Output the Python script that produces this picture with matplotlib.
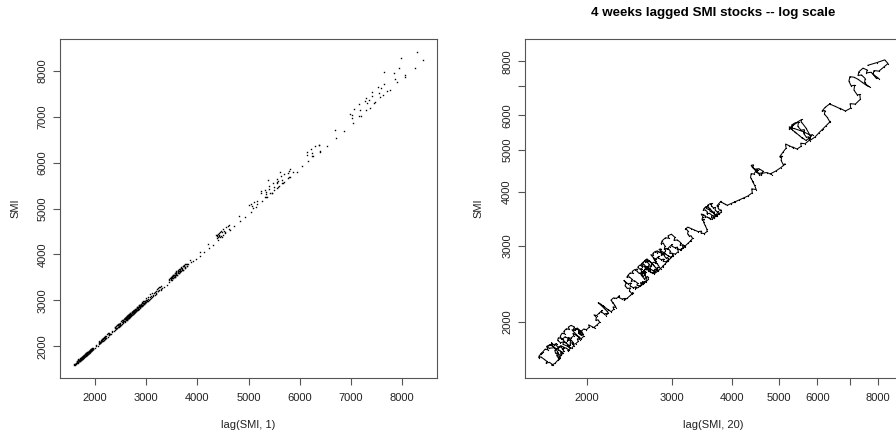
import numpy as np
import matplotlib
matplotlib.use("Agg")
import matplotlib.pyplot as plt
from matplotlib.ticker import FixedLocator, FixedFormatter, NullLocator

# Approximate SMI closes every 3 trading days (Jul 1991 - Aug 1998)
smi_1991 = [1678, 1692, 1710, 1704, 1725, 1742, 1738,
            1755, 1768, 1760, 1772,
            1745, 1712, 1668, 1650,
            1672, 1695, 1688, 1712, 1735, 1750, 1745, 1768,
            1782, 1770, 1790, 1778, 1765,
            1748, 1722, 1730, 1705, 1688, 1692, 1670, 1652, 1660,
            1638, 1620, 1605, 1612, 1592, 1588]
smi_1992 = [1605, 1630, 1652, 1645, 1672, 1698, 1690, 1718, 1740, 1762,
            1748, 1730, 1742, 1722, 1715,
            1738, 1765, 1790, 1782, 1808, 1832, 1825, 1848,
            1830, 1808, 1815, 1790, 1772, 1780,
            1802, 1828, 1820, 1852, 1875, 1868, 1895, 1918, 1910, 1935,
            1915, 1895, 1902, 1878, 1862,
            1885, 1908, 1930, 1922, 1948, 1962,
            1945, 1920, 1928, 1900, 1875, 1882, 1852, 1830, 1838, 1812, 1790, 1798,
            1775, 1760, 1768, 1745, 1738,
            1762, 1790, 1782, 1815, 1840, 1832, 1858, 1880,
            1862, 1845, 1850, 1828,
            1850, 1878, 1870, 1898, 1925, 1918, 1945, 1968]
smi_1993 = [1950, 1935, 1942,
            1968, 1995, 2022, 2015, 2048, 2075, 2068, 2098, 2125,
            2108, 2085, 2092, 2068,
            2095, 2122, 2150, 2142, 2172, 2195, 2188, 2215,
            2195, 2170, 2178, 2150, 2128, 2135, 2110,
            2138, 2165, 2158, 2190, 2218, 2210, 2245, 2272, 2265, 2298,
            2280, 2258, 2265, 2242,
            2270, 2302, 2335, 2325, 2362, 2395, 2388, 2425, 2460, 2492,
            2475, 2448, 2458, 2425, 2398, 2410, 2385, 2402,
            2432, 2465, 2455, 2492, 2528, 2518, 2555, 2590, 2582, 2620, 2655, 2648,
            2625, 2598, 2610, 2585,
            2618, 2655, 2692, 2682, 2725, 2768, 2758, 2805]
smi_1994 = [2842, 2878, 2868, 2905, 2945, 2935, 2978, 3015, 3005, 3048, 3092, 3085, 3135, 3188,
            3162, 3120, 3128, 3078, 3030, 3042, 2992, 2945, 2955, 2908, 2862, 2848,
            2875, 2902, 2892, 2918, 2905,
            2878, 2850, 2858, 2822, 2790, 2800, 2765, 2738, 2745, 2712,
            2738, 2762, 2752, 2778, 2770,
            2745, 2718, 2725, 2690, 2662, 2670, 2638, 2612, 2590,
            2615, 2645, 2638, 2672, 2705, 2698, 2735, 2768, 2760, 2795,
            2772, 2745, 2752, 2718, 2688, 2695, 2662, 2635, 2642,
            2665, 2690, 2682, 2710, 2702,
            2675, 2648, 2655, 2622, 2595, 2602, 2570, 2548]
smi_1995 = [2570, 2598, 2590, 2622, 2648, 2640,
            2615, 2588, 2595, 2562, 2535, 2542, 2510, 2482, 2490, 2458, 2432, 2418,
            2445, 2478, 2470, 2508, 2545, 2538, 2578, 2615, 2605, 2645, 2682, 2672,
            2650, 2628, 2635, 2612,
            2640, 2672, 2665, 2702, 2738, 2730, 2768, 2805, 2795, 2832,
            2810, 2785, 2792, 2765, 2752,
            2780, 2815, 2808, 2848, 2885, 2875, 2912, 2948, 2940,
            2915, 2888, 2895, 2862, 2838, 2845, 2820,
            2850, 2885, 2878, 2915, 2952, 2945, 2982, 3018,
            2995, 2968, 2975, 2948, 2935,
            2965, 3002, 2995, 3038, 3080, 3072, 3118, 3162, 3155]
smi_1996 = [3195, 3238, 3282, 3275, 3310,
            3285, 3258, 3232, 3240, 3208, 3198,
            3235, 3285, 3340, 3398, 3452, 3445, 3502, 3548, 3540,
            3515, 3488, 3495, 3462, 3475, 3450,
            3482, 3518, 3510, 3552, 3592, 3585, 3628, 3665, 3655, 3698,
            3672, 3640, 3648, 3612, 3580, 3588, 3552, 3525,
            3560, 3598, 3590, 3632, 3675, 3668, 3712, 3755, 3745,
            3718, 3685, 3692, 3655, 3620, 3628, 3590, 3555, 3562, 3528, 3495, 3482,
            3515, 3552, 3545, 3588, 3630, 3622, 3668, 3712, 3705, 3752, 3798, 3790,
            3765, 3738, 3745, 3718,
            3752, 3790, 3782, 3825, 3868, 3860]
smi_1997 = [3905, 3975, 4058, 4042, 4135, 4228, 4212, 4308, 4402, 4388, 4485,
            4450, 4405, 4418, 4365, 4378,
            4432, 4495, 4480, 4545, 4612, 4598,
            4552, 4505, 4518, 4460, 4412, 4425, 4378, 4402,
            4462, 4540, 4632, 4615, 4720, 4828, 4810, 4925, 5040, 5150,
            5102, 5050, 5068, 5015,
            5090, 5172, 5158, 5255, 5352, 5338, 5448, 5560, 5545, 5660, 5778, 5762,
            5700, 5625, 5642, 5555, 5468, 5488, 5395, 5310, 5330, 5250,
            5328, 5415, 5400, 5498, 5595, 5580, 5685, 5790,
            5870, 5802, 5620, 5372, 5248,
            5345, 5458, 5572, 5555, 5680, 5810, 5795, 5935]
smi_1998 = [6040, 6155, 6138, 6262, 6390, 6372,
            6295, 6210, 6228, 6140,
            6232, 6385, 6368, 6535, 6705, 6688, 6862, 7040, 7020, 7195, 7372, 7350,
            7265, 7150, 7172, 7055, 6980, 7012,
            7150, 7295, 7440, 7418, 7565, 7712,
            7640, 7520, 7545, 7410, 7290, 7318,
            7465, 7615, 7590, 7752, 7905, 8060,
            7945, 7830, 7868,
            8052, 8240, 8412,
            8280, 7980, 7640]

smi = np.array(smi_1991 + smi_1992 + smi_1993 + smi_1994 + smi_1995
               + smi_1996 + smi_1997 + smi_1998, float)

lag_short = 1   # one step  -> lag(SMI, 1)
lag_long = 7    # ~20 trading days -> lag(SMI, 20)

ticks = [2000, 3000, 4000, 5000, 6000, 7000, 8000]
labels_lin = ["2000", "3000", "4000", "5000", "6000", "7000", "8000"]
labels_log = ["2000", "3000", "4000", "5000", "6000", "", "8000"]

plt.rcParams['font.family'] = ['Liberation Sans', 'DejaVu Sans']
W, H = 896, 437
fig = plt.figure(figsize=(W / 100, H / 100), dpi=100)

def px_axes(l, t, r, b):
    return fig.add_axes([l / W, 1 - b / H, (r - l) / W, (b - t) / H])

ax1 = px_axes(60, 39.3, 437.3, 377.7)
ax2 = px_axes(524.7, 39.3, 902, 377.7)

text_col = '#222222'
spine_col = '#555555'

def style(ax, labels):
    ax.xaxis.set_major_locator(FixedLocator(ticks))
    ax.xaxis.set_major_formatter(FixedFormatter(labels))
    ax.yaxis.set_major_locator(FixedLocator(ticks))
    ax.yaxis.set_major_formatter(FixedFormatter(labels))
    ax.xaxis.set_minor_locator(NullLocator())
    ax.yaxis.set_minor_locator(NullLocator())
    for s in ax.spines.values():
        s.set_color(spine_col)
        s.set_linewidth(0.8)
    ax.tick_params(axis='both', which='major', length=5, width=0.8, color=spine_col,
                   labelsize=8, labelcolor=text_col, direction='out')
    ax.tick_params(axis='x', pad=6)
    ax.tick_params(axis='y', pad=4)
    for lab in ax.get_yticklabels():
        lab.set_rotation(90)
        lab.set_va('center')

lo, hi = smi.min(), smi.max()

# Left: lag 1 scatter
ax1.plot(smi[lag_short:], smi[:-lag_short], linestyle='none', marker='s', ms=1.0,
         mew=0, color='black')
pad = 0.04 * (hi - lo)
ax1.set_xlim(lo - pad, hi + pad)
ax1.set_ylim(lo - pad, hi + pad)
style(ax1, labels_lin)
ax1.set_xlabel("lag(SMI, 1)", fontsize=8, color=text_col, va='center')
ax1.xaxis.set_label_coords(0.5, -(425 - 377.7) / 338.4)
ax1.set_ylabel("SMI", fontsize=8, color=text_col, va='center')
ax1.yaxis.set_label_coords(-(60 - 15) / 377.3, 0.5)

# Right: 4-week lag path, log scale
ax2.plot(smi[lag_long:], smi[:-lag_long], color='black', lw=0.75,
         marker='s', ms=0.8, mew=0)
ax2.set_xscale('log')
ax2.set_yscale('log')
llo, lhi = np.log(lo), np.log(hi)
lpad = 0.04 * (lhi - llo)
ax2.set_xlim(np.exp(llo - lpad), np.exp(lhi + lpad))
ax2.set_ylim(np.exp(llo - lpad), np.exp(lhi + lpad))
style(ax2, labels_log)
ax2.set_xlabel("lag(SMI, 20)", fontsize=8, color=text_col, va='center')
ax2.xaxis.set_label_coords(0.5, -(425 - 377.7) / 338.4)
ax2.set_ylabel("SMI", fontsize=8, color=text_col, va='center')
ax2.yaxis.set_label_coords(-(524.7 - 478) / 377.3, 0.5)
ax2.set_title("4 weeks lagged SMI stocks -- log scale", fontsize=9.6, fontweight='bold',
              color='black', y=1 + (39.3 - 13.3) / 338.4, va='center', pad=0)

fig.savefig("out.png", dpi=100)
